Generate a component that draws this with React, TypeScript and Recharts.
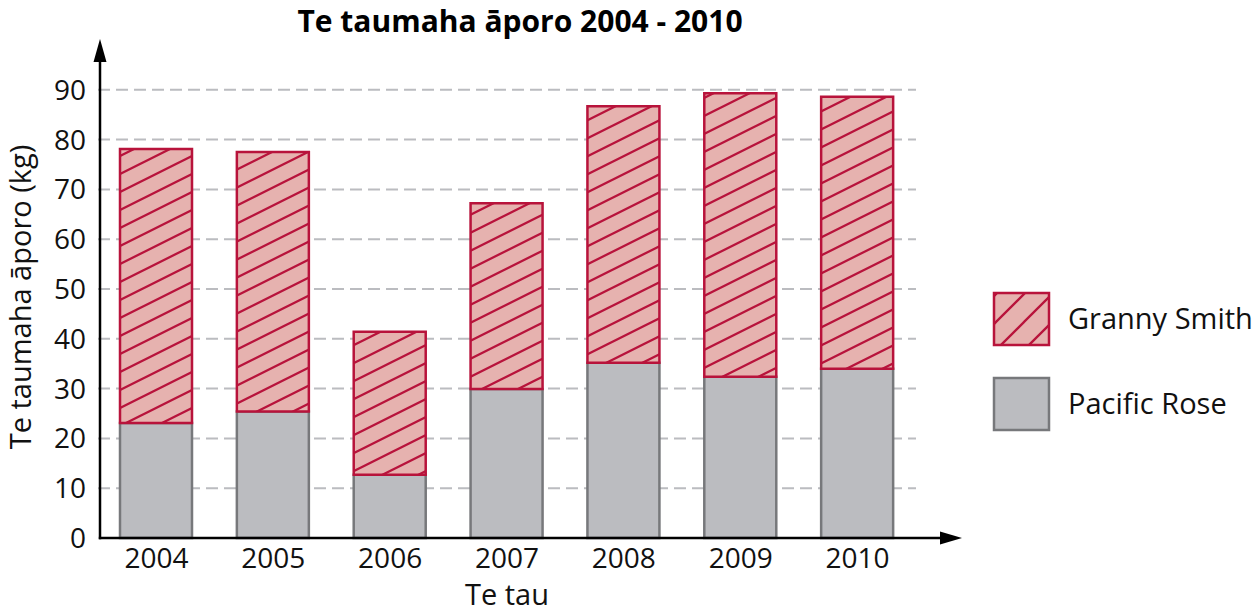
import React from "react";
import { BarChart, Bar, XAxis, YAxis, CartesianGrid } from "recharts";

const years = ["2004", "2005", "2006", "2007", "2008", "2009", "2010"];
const pacificRose = [23.1, 25.4, 12.7, 29.9, 35.2, 32.4, 34.0];
const grannySmith = [55.0, 52.1, 28.7, 37.3, 51.5, 56.9, 54.6];
const yTicks = [0, 10, 20, 30, 40, 50, 60, 70, 80, 90];

const W = 1258;
const H = 613;
const FONT = "'Open Sans', sans-serif";
const AXIS_X = 100;
const AXIS_Y = 538;

const GRANNY_FILL = "#e6b2af";
const GRANNY_LINE = "#b8133b";
const ROSE_FILL = "#bbbcc0";
const ROSE_LINE = "#77787b";

const data = years.map((year, i) => ({
  year,
  pacific: pacificRose[i],
  granny: grannySmith[i],
}));

// legend drawn beside the plot, top entry first
const legendItems = [
  { name: "Granny Smith", fill: "url(#legendHatch)", stroke: GRANNY_LINE },
  { name: "Pacific Rose", fill: ROSE_FILL, stroke: ROSE_LINE },
];

function YLabel({ viewBox }: any) {
  const cy = viewBox.y + viewBox.height / 2 + 8;
  return (
    <text
      x={31}
      y={cy}
      transform={`rotate(-90 31 ${cy})`}
      textAnchor="middle"
      fontSize={29}
      fontFamily={FONT}
      fill="#111"
    >
      Te taumaha āporo (kg)
    </text>
  );
}

export default function App() {
  return (
    <div style={{ position: "absolute", left: 0, top: 0, width: W, height: H, background: "#fff" }}>
      <BarChart
        width={W}
        height={H}
        data={data}
        margin={{ top: 40, right: 342, bottom: 0, left: 0 }}
        style={{ fontFamily: FONT }}
      >
        <defs>
          <pattern id="barHatch" width={36} height={18} patternUnits="userSpaceOnUse">
            <rect width={36} height={18} fill={GRANNY_FILL} />
            <path d="M-4,2 L4,-2 M0,18 L36,0 M32,20 L40,16" stroke={GRANNY_LINE} strokeWidth={2.3} />
          </pattern>
        </defs>
        <CartesianGrid
          vertical={false}
          horizontalValues={yTicks.slice(1)}
          stroke="#bbbcc0"
          strokeWidth={2}
          strokeDasharray="12 6"
        />
        <XAxis
          dataKey="year"
          height={75}
          axisLine={false}
          tickLine={false}
          tickMargin={4}
          tick={{ fill: "#111", fontSize: 28, fontFamily: FONT }}
          label={{ value: "Te tau", position: "insideBottom", offset: 8, fill: "#111", fontSize: 29, fontFamily: FONT }}
        />
        <YAxis
          width={98}
          domain={[0, 100]}
          ticks={yTicks}
          interval={0}
          axisLine={false}
          tickLine={false}
          tickMargin={6}
          tick={{ fill: "#111", fontSize: 28, fontFamily: FONT }}
          label={{ content: YLabel }}
        />
        <Bar
          dataKey="pacific"
          name="Pacific Rose"
          stackId="a"
          barSize={72}
          fill={ROSE_FILL}
          stroke={ROSE_LINE}
          strokeWidth={2.5}
          isAnimationActive={false}
        />
        <Bar
          dataKey="granny"
          name="Granny Smith"
          stackId="a"
          barSize={72}
          fill="url(#barHatch)"
          stroke={GRANNY_LINE}
          strokeWidth={2.5}
          isAnimationActive={false}
        />
      </BarChart>
      <svg
        width={W}
        height={H}
        style={{ position: "absolute", left: 0, top: 0, pointerEvents: "none" }}
      >
        <defs>
          <pattern id="legendHatch" width={28} height={28} patternUnits="userSpaceOnUse" x={996} y={294}>
            <rect width={28} height={28} fill={GRANNY_FILL} />
            <path d="M-7,7 L7,-7 M0,28 L28,0 M21,35 L35,21" stroke={GRANNY_LINE} strokeWidth={2.3} />
          </pattern>
        </defs>
        <text x={520} y={32} textAnchor="middle" fontSize={30} fontWeight={700} fontFamily={FONT} fill="#000">
          Te taumaha āporo 2004 - 2010
        </text>
        <line x1={AXIS_X} y1={AXIS_Y + 1.2} x2={AXIS_X} y2={58} stroke="#000" strokeWidth={2.5} />
        <polygon points={`${AXIS_X},39 ${AXIS_X - 6.5},62 ${AXIS_X + 6.5},62`} fill="#000" />
        <line x1={AXIS_X - 1.2} y1={AXIS_Y} x2={944} y2={AXIS_Y} stroke="#000" strokeWidth={2.5} />
        <polygon points={`962,${AXIS_Y} 940,${AXIS_Y - 6.5} 940,${AXIS_Y + 6.5}`} fill="#000" />
        {legendItems.map((item, i) => {
          const top = 293 + i * 85;
          return (
            <g key={item.name}>
              <rect x={994} y={top} width={55} height={52} fill={item.fill} stroke={item.stroke} strokeWidth={2.5} />
              <text x={1068} y={top + 36} fontSize={29} fontFamily={FONT} fill="#111">
                {item.name}
              </text>
            </g>
          );
        })}
      </svg>
    </div>
  );
}
